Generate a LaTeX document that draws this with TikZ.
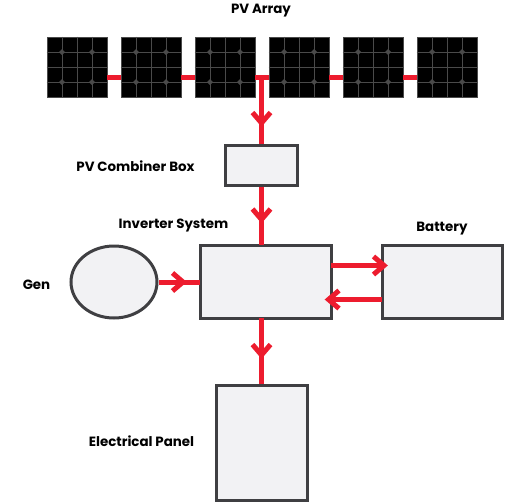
\documentclass[tikz,border=0pt]{standalone}
\usepackage{fontspec}
\setmainfont{Poppins}
\usetikzlibrary{decorations.markings,shapes.geometric}
\definecolor{wirered}{HTML}{ED1C2E}
\definecolor{boxedge}{HTML}{3F3F42}
\definecolor{boxfill}{HTML}{F2F2F4}
\definecolor{gridgrey}{HTML}{4A4A4A}
\tikzset{
  x=1pt,y=-1pt,
  box/.style={draw=boxedge,fill=boxfill,line width=3pt,inner sep=0pt},
  panel/.style={draw=gridgrey,fill=black,line width=0.8pt,minimum size=60pt,inner sep=0pt},
  wire/.style={draw=wirered,line width=5pt},
  chevronshape/.style={wirered,line width=5pt,line cap=butt,miter limit=10},
  chevron/.style={postaction={decorate,decoration={markings,mark=at position #1 with {
    \draw[chevronshape] (-10.5pt,9pt)--(0pt,0pt)--(-10.5pt,-9pt);}}}},
  chevronpast/.style={postaction={decorate,decoration={markings,mark=at position 1 with {
    \draw[chevronshape] (#1-10.5pt,9pt)--(#1,0pt)--(#1-10.5pt,-9pt);}}}},
  lbl/.style={font=\fontsize{13.4pt}{15pt}\selectfont\bfseries,inner sep=0pt,text=black,anchor=base},
}
\begin{document}
\begin{tikzpicture}
\useasboundingbox (0,0) rectangle (517,501);
% PV modules
\foreach \n/\cx in {1/77,2/151,3/225,4/299,5/373,6/447}{
  \node[panel] (p\n) at (\cx,67) {};
  \foreach \f in {-15,0,15}{
    \draw[gridgrey,line width=0.8pt] ([xshift=\f pt]p\n.north) -- ([xshift=\f pt]p\n.south);
    \draw[gridgrey,line width=0.8pt] ([yshift=\f pt]p\n.west) -- ([yshift=\f pt]p\n.east);
  }
  \foreach \dx in {-15,15}\foreach \dy in {-15,15}{
    \fill[gridgrey] ([shift={(\dx pt+3pt,\dy pt)}]p\n.center) -- ([shift={(\dx pt,\dy pt+3pt)}]p\n.center)
      -- ([shift={(\dx pt-3pt,\dy pt)}]p\n.center) -- ([shift={(\dx pt,\dy pt-3pt)}]p\n.center) -- cycle;
  }
}
% boxes
\node[box,minimum width=72pt,minimum height=40pt] (combiner) at (261.5,165) {};
\node[box,minimum width=131pt,minimum height=73pt] (inverter) at (265.5,281.5) {};
\node[box,minimum width=120pt,minimum height=73pt] (battery) at (442,281.5) {};
\node[box,minimum width=91pt,minimum height=115pt] (panelbox) at (261.5,442.5) {};
\node[box,ellipse,minimum width=86pt,minimum height=72pt] (gen) at (114,282) {};
% named junctions
\coordinate (trunk) at (261.5,77);
\coordinate (invtop) at (261.5,245);
\coordinate (invbot) at (261.5,318);
\coordinate (genin) at (200,282);
\coordinate (invout) at (331,265.5);
\coordinate (batin) at (382,265.5);
\coordinate (batout) at (382,299.5);
\coordinate (invin) at (331,299.5);
% wires
\foreach \a/\b in {1/2,2/3,3/4,4/5,5/6}{
  \path[wire] ([yshift=-10pt]p\a.east) -- ([yshift=-10pt]p\b.west);
}
\path[wire,chevron=46pt] (trunk) -- (combiner.north);
\path[wire,chevron=33pt] (combiner.south) -- (invtop);
\path[wire,chevron=24.5pt] (gen.east) -- (genin);
\path[wire,chevronpast=2pt] (invout) -- (batin);
\path[wire,chevronpast=2.5pt] (batout) -- (invin);
\path[wire,chevron=37pt] (invbot) -- (panelbox.north);
% labels
\node[lbl] (t1) at (261,13.5) {PV Array};
\node[lbl] (t2) at (135.5,171) {PV Combiner Box};
\node[lbl] (t3) at (173.5,228) {Inverter System};
\node[lbl] (t4) at (442,231) {Battery};
\node[lbl] (t5) at (36.5,289) {Gen};
\node[lbl] (t6) at (141.5,446) {Electrical Panel};
\end{tikzpicture}
\end{document}
